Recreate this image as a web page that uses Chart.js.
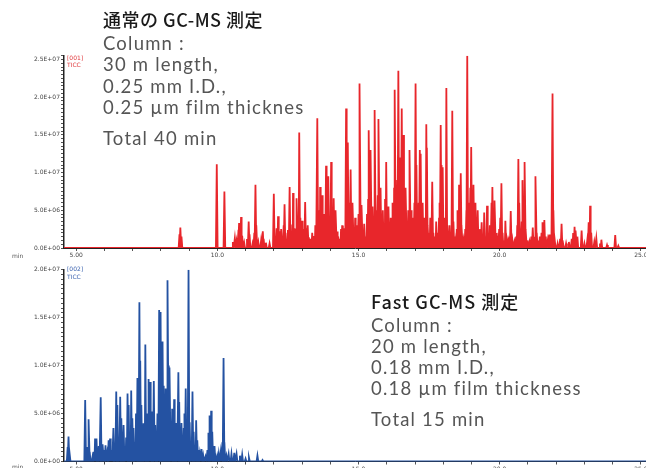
<!DOCTYPE html>
<html>
<head>
<meta charset="utf-8">
<script src="https://cdn.jsdelivr.net/npm/chart.js"></script>
<style>
  body { margin: 0; width: 646px; height: 468px; overflow: hidden; background: #fff; position: relative; }
  canvas { position: absolute; left: 0; }
  .head { position: absolute; font-family: "Noto Sans CJK JP", sans-serif; font-weight: 500; font-size: 18px; letter-spacing: 0.5px; color: #1a1a1a; white-space: nowrap; line-height: 1; }
  .note { position: absolute; font-family: "Lato", sans-serif; font-size: 18.5px; letter-spacing: 1.2px; color: #555; white-space: nowrap; line-height: 1; }
  .small { position: absolute; font-family: "DejaVu Sans", sans-serif; font-size: 6px; white-space: nowrap; line-height: 1; }
</style>
</head>
<body>
<canvas id="topChart" width="646" height="262" style="top:0"></canvas>
<canvas id="bottomChart" width="646" height="206" style="top:262px"></canvas>

<div class="head" style="left:103px;top:10px">通常の GC-MS 測定</div>
<div class="note" style="left:103px;top:34px">Column :</div>
<div class="note" style="left:103px;top:55px">30 m length,</div>
<div class="note" style="left:103px;top:77px">0.25 mm I.D.,</div>
<div class="note" style="left:103px;top:98px">0.25 µm film thicknes</div>
<div class="note" style="left:103px;top:129px">Total 40 min</div>

<div class="head" style="left:371px;top:292px;letter-spacing:1px">Fast GC-MS 測定</div>
<div class="note" style="left:371px;top:316px">Column :</div>
<div class="note" style="left:371px;top:337px">20 m length,</div>
<div class="note" style="left:371px;top:358px">0.18 mm I.D.,</div>
<div class="note" style="left:371px;top:379px">0.18 µm film thickness</div>
<div class="note" style="left:371px;top:410px">Total 15 min</div>

<div class="small" style="left:67px;top:55px;color:#e0393d">[001]</div>
<div class="small" style="left:67px;top:62px;color:#e0393d">TICC</div>
<div class="small" style="left:67px;top:266px;color:#3d64b0">[002]</div>
<div class="small" style="left:67px;top:274px;color:#3d64b0">TICC</div>
<div class="small" style="left:12px;top:253px;color:#555">min</div>
<div class="small" style="left:12px;top:464px;color:#555">min</div>

<script>
"use strict";

// Retentionstid (min) och topphöjd (x 1E+06) för vanlig GC-MS
const topTimes = [
    8.66, 8.69, 8.73, 9.98, 10.25, 10.55, 10.62, 10.68, 10.75, 10.77,
    10.81, 10.84, 10.88, 10.95, 11.05, 11.11, 11.14, 11.25, 11.31, 11.35,
    11.38, 11.45, 11.55, 11.61, 11.64, 11.72, 11.85, 12.0, 12.05, 12.1,
    12.15, 12.2, 12.26, 12.3, 12.35, 12.38, 12.43, 12.5, 12.56, 12.6,
    12.64, 12.68, 12.72, 12.77, 12.82, 12.86, 12.9, 12.94, 12.97, 13.0,
    13.04, 13.08, 13.11, 13.15, 13.2, 13.24, 13.3, 13.36, 13.42, 13.47,
    13.54, 13.57, 13.6, 13.64, 13.68, 13.71, 13.75, 13.79, 13.82, 13.85,
    13.89, 13.93, 13.97, 14.0, 14.03, 14.06, 14.09, 14.12, 14.16, 14.2,
    14.24, 14.28, 14.33, 14.38, 14.42, 14.47, 14.5, 14.56, 14.59, 14.62,
    14.66, 14.69, 14.72, 14.76, 14.8, 14.84, 14.88, 14.92, 14.96, 15.0,
    15.05, 15.08, 15.12, 15.16, 15.2, 15.25, 15.3, 15.34, 15.37, 15.4,
    15.44, 15.47, 15.51, 15.55, 15.58, 15.61, 15.65, 15.68, 15.72, 15.75,
    15.78, 15.82, 15.86, 15.9, 15.94, 15.98, 16.02, 16.06, 16.1, 16.14,
    16.18, 16.22, 16.26, 16.29, 16.33, 16.37, 16.41, 16.45, 16.48, 16.53,
    16.58, 16.64, 16.68, 16.72, 16.76, 16.82, 16.86, 16.9, 16.94, 16.98,
    17.02, 17.05, 17.09, 17.13, 17.17, 17.2, 17.24, 17.27, 17.31, 17.35,
    17.4, 17.42, 17.46, 17.5, 17.54, 17.58, 17.61, 17.65, 17.7, 17.75,
    17.8, 17.85, 17.88, 17.91, 17.94, 17.98, 18.02, 18.06, 18.11, 18.14,
    18.18, 18.22, 18.26, 18.32, 18.36, 18.4, 18.44, 18.48, 18.52, 18.56,
    18.62, 18.66, 18.72, 18.78, 18.82, 18.85, 18.88, 18.92, 18.96, 18.99,
    19.03, 19.07, 19.1, 19.14, 19.18, 19.22, 19.26, 19.3, 19.36, 19.4,
    19.45, 19.5, 19.55, 19.6, 19.65, 19.71, 19.74, 19.78, 19.83, 19.87,
    19.92, 19.98, 20.02, 20.06, 20.1, 20.15, 20.2, 20.25, 20.3, 20.35,
    20.39, 20.45, 20.52, 20.58, 20.62, 20.66, 20.69, 20.73, 20.78, 20.82,
    20.86, 20.89, 20.93, 20.98, 21.05, 21.12, 21.17, 21.22, 21.28, 21.31,
    21.36, 21.42, 21.48, 21.53, 21.58, 21.63, 21.7, 21.75, 21.8, 21.87,
    21.9, 21.95, 22.05, 22.14, 22.19, 22.24, 22.35, 22.45, 22.55, 22.6,
    22.65, 22.7, 22.75, 22.9, 23.0, 23.1, 23.15, 23.2, 23.24, 23.35,
    23.42, 23.55, 23.6, 23.8, 24.09, 24.2
];
const topHeights = [
    1.8, 2.7, 1.5, 11.1, 7.5, 0.8, 1.3, 0.9, 2.4, 3.3,
    2.0, 4.1, 1.6, 0.7, 1.2, 3.5, 1.8, 0.6, 2.0, 8.4,
    3.0, 0.8, 1.0, 2.2, 1.2, 0.7, 0.6, 7.2, 1.5, 2.6,
    4.2, 2.2, 2.5, 1.4, 3.0, 5.8, 2.0, 2.4, 8.1, 3.1,
    1.8, 7.3, 2.6, 1.5, 6.6, 3.5, 15.3, 4.0, 2.0, 3.6,
    1.5, 2.5, 6.1, 2.6, 3.0, 1.4, 1.2, 2.0, 1.6, 3.0,
    17.2, 5.0, 3.5, 8.1, 4.0, 7.0, 3.2, 4.5, 2.5, 10.9,
    3.8, 9.5, 4.0, 2.5, 11.4, 3.0, 4.2, 6.6, 2.8, 5.0,
    2.2, 1.5, 1.2, 2.5, 3.0, 1.8, 2.6, 18.5, 5.5, 14.0,
    4.0, 6.0, 10.4, 3.5, 6.0, 2.5, 4.0, 1.8, 3.0, 4.5,
    21.8, 3.0, 5.7, 2.0, 3.2, 1.5, 4.5, 6.5, 15.6, 4.0,
    13.0, 3.5, 5.5, 4.0, 18.3, 5.0, 3.0, 7.0, 17.1, 4.0,
    8.0, 3.0, 5.0, 2.5, 6.5, 11.4, 3.5, 5.5, 2.5, 4.0,
    2.0, 6.0, 8.0, 21.0, 5.0, 9.0, 23.5, 6.0, 12.0, 18.5,
    15.0, 5.0, 8.0, 3.0, 5.0, 13.0, 5.0, 2.5, 4.0, 6.0,
    21.8, 11.0, 4.0, 6.0, 13.0, 12.5, 3.5, 6.0, 2.5, 4.0,
    16.4, 13.3, 3.0, 2.0, 4.0, 2.5, 8.8, 2.0, 1.5, 3.5,
    2.0, 4.0, 6.0, 16.3, 11.0, 10.7, 3.0, 4.0, 21.2, 3.0,
    1.2, 3.0, 1.5, 18.2, 3.5, 1.5, 1.0, 2.5, 5.0, 8.4,
    9.9, 3.0, 1.0, 2.5, 5.0, 25.5, 6.0, 3.0, 8.0, 13.4,
    5.0, 8.4, 3.0, 6.0, 2.0, 5.0, 1.5, 2.5, 3.4, 1.2,
    4.7, 1.5, 5.6, 2.0, 3.0, 6.0, 8.1, 3.5, 6.3, 2.0,
    1.0, 2.5, 4.0, 8.6, 2.0, 1.0, 3.6, 1.0, 0.8, 1.5,
    4.9, 1.0, 0.8, 1.5, 3.0, 11.8, 6.0, 2.0, 3.5, 9.0,
    4.0, 11.4, 2.5, 1.0, 0.8, 1.5, 2.7, 1.5, 9.5, 2.0,
    1.0, 1.5, 2.0, 3.4, 3.7, 1.5, 1.0, 1.8, 1.2, 20.5,
    5.0, 1.0, 0.6, 1.2, 3.2, 1.0, 0.6, 0.8, 1.2, 2.0,
    2.8, 2.3, 1.5, 2.3, 0.6, 1.0, 3.4, 5.6, 2.0, 0.8,
    1.3, 0.6, 1.1, 0.4, 1.7, 0.3
];

// Retentionstid (min) och topphöjd (x 1E+06) för Fast GC-MS
const bottomTimes = [
    4.70, 4.73, 4.77, 5.32, 5.35, 5.42, 5.45, 5.48, 5.58, 5.62,
    5.67, 5.72, 5.76, 5.8, 5.87, 5.9, 5.95, 6.0, 6.04, 6.1,
    6.15, 6.2, 6.25, 6.32, 6.36, 6.42, 6.46, 6.5, 6.56, 6.6,
    6.64, 6.68, 6.72, 6.77, 6.82, 6.86, 6.9, 6.95, 6.99, 7.03,
    7.07, 7.12, 7.17, 7.2, 7.24, 7.27, 7.31, 7.35, 7.4, 7.45,
    7.49, 7.53, 7.58, 7.62, 7.66, 7.7, 7.75, 7.8, 7.84, 7.88,
    7.94, 7.99, 8.03, 8.06, 8.1, 8.14, 8.17, 8.21, 8.25, 8.28,
    8.32, 8.36, 8.4, 8.44, 8.47, 8.51, 8.55, 8.62, 8.65, 8.69,
    8.73, 8.77, 8.81, 8.85, 8.88, 8.92, 8.98, 9.02, 9.06, 9.12,
    9.16, 9.2, 9.25, 9.29, 9.33, 9.38, 9.44, 9.5, 9.58, 9.65,
    9.7, 9.74, 9.78, 9.82, 9.86, 9.9, 9.95, 10.0, 10.05, 10.12,
    10.18, 10.22, 10.25, 10.32, 10.4, 10.5, 10.6, 10.68, 10.8, 10.88,
    11.0, 11.12, 11.42, 11.6
];
const bottomHeights = [
    1.5, 2.6, 0.8, 6.4, 1.5, 1.2, 4.4, 1.0, 0.5, 1.0,
    2.4, 2.4, 1.2, 1.6, 6.7, 1.5, 1.8, 1.2, 1.7, 0.8,
    2.2, 2.4, 1.2, 3.5, 1.5, 7.3, 5.9, 2.0, 6.75, 4.5,
    2.0, 3.8, 1.5, 2.5, 7.1, 5.9, 2.5, 7.4, 4.5, 3.5,
    2.0, 5.0, 8.7, 3.0, 16.6, 10.5, 5.9, 2.5, 4.0, 12.2,
    3.4, 5.0, 8.6, 8.3, 3.0, 5.2, 8.4, 3.8, 2.0, 5.0,
    15.8, 15.6, 6.0, 12.5, 7.9, 3.0, 7.6, 4.0, 18.9, 10.0,
    9.8, 4.0, 5.5, 3.0, 6.5, 2.5, 4.0, 9.3, 6.2, 2.5,
    4.0, 2.0, 3.5, 5.0, 7.6, 3.0, 20.0, 4.1, 2.0, 7.3,
    3.1, 1.5, 4.3, 2.2, 1.2, 0.8, 1.3, 0.6, 0.5, 1.2,
    3.0, 4.8, 5.3, 3.1, 1.5, 1.6, 0.6, 0.5, 0.8, 1.0,
    2.0, 10.8, 2.0, 0.6, 0.8, 0.8, 0.9, 0.8, 0.6, 0.7,
    0.3, 0.4, 0.6, 0.15
];

// Axlarnas skalsteg och etiketter
const xTickValues = [5, 10, 15, 20, 25];
const xTickLabels = ['5.00', '10.0', '15.0', '20.0', '25.0'];
const topYTickValues = [0, 5e6, 1e7, 1.5e7, 2e7, 2.5e7];
const topYTickLabels = ['0.0E+00', '5.0E+06', '1.0E+07', '1.5E+07', '2.0E+07', '2.5E+07'];
const bottomYTickValues = [0, 5e6, 1e7, 1.5e7, 2e7];
const bottomYTickLabels = ['0.0E+00', '5.0E+06', '1.0E+07', '1.5E+07', '2.0E+07'];

const X_MIN = 4.57;
const X_MAX = 25.18;
const PEAK_HALF_WIDTH = 0.03;

// Bygg punktlistan för en topp-serie (bas - topp - bas)
function buildPoints(times, heights) {
    const points = [{ x: X_MIN, y: 0 }];
    times.forEach((t, i) => {
        points.push({ x: t - PEAK_HALF_WIDTH, y: 0 });
        points.push({ x: t, y: heights[i] * 1e6 });
        points.push({ x: t + PEAK_HALF_WIDTH, y: 0 });
    });
    points.push({ x: X_MAX, y: 0 });
    return points;
}

function labelFor(value, values, labels) {
    const i = values.findIndex(v => Math.abs(v - value) < 1e-3 * Math.max(1, Math.abs(v)));
    return i >= 0 ? labels[i] : '';
}

const tickFont = { family: 'DejaVu Sans', size: 6 };

function drawChromatogram(el, opts) {
    new Chart(el, {
        type: 'line',
        data: {
            datasets: [{
                data: buildPoints(opts.times, opts.heights),
                borderColor: opts.color,
                borderWidth: 1.8,
                pointRadius: 0,
                tension: 0,
                fill: false
            }]
        },
        options: {
            responsive: false,
            animation: false,
            events: [],
            layout: { padding: { top: opts.padTop, left: 0, right: 0, bottom: 0 } },
            plugins: {
                legend: { display: false },
                tooltip: { enabled: false }
            },
            scales: {
                x: {
                    type: 'linear',
                    min: X_MIN,
                    max: X_MAX,
                    border: { color: '#222', width: 1 },
                    grid: { drawOnChartArea: false, tickLength: 3, color: '#555' },
                    ticks: {
                        stepSize: 1,
                        includeBounds: false,
                        autoSkip: false,
                        maxRotation: 0,
                        padding: 1,
                        color: '#444',
                        font: tickFont,
                        callback: v => labelFor(v, xTickValues, xTickLabels)
                    },
                    afterFit: scale => {
                        scale.height = opts.xHeight;
                        scale.paddingLeft = 0;
                        scale.paddingRight = 0;
                    }
                },
                y: {
                    min: 0,
                    max: opts.yMax,
                    border: { color: '#222', width: 1.5 },
                    grid: { drawOnChartArea: false, tickLength: 3, color: '#555' },
                    ticks: {
                        stepSize: 5e5,
                        includeBounds: false,
                        autoSkip: false,
                        padding: 1,
                        color: '#444',
                        font: tickFont,
                        callback: v => labelFor(v, opts.yValues, opts.yLabels)
                    },
                    afterFit: scale => {
                        scale.width = 64;
                        scale.paddingTop = 0;
                        scale.paddingBottom = 0;
                    }
                }
            }
        }
    });
}

drawChromatogram(document.getElementById('topChart'), {
    times: topTimes,
    heights: topHeights,
    color: '#e8262b',
    yMax: 2.55e7,
    yValues: topYTickValues,
    yLabels: topYTickLabels,
    padTop: 55.7,
    xHeight: 14
});

drawChromatogram(document.getElementById('bottomChart'), {
    times: bottomTimes,
    heights: bottomHeights,
    color: '#2452a2',
    yMax: 2.0e7,
    yValues: bottomYTickValues,
    yLabels: bottomYTickLabels,
    padTop: 7.7,
    xHeight: 6.5
});
</script>
</body>
</html>
